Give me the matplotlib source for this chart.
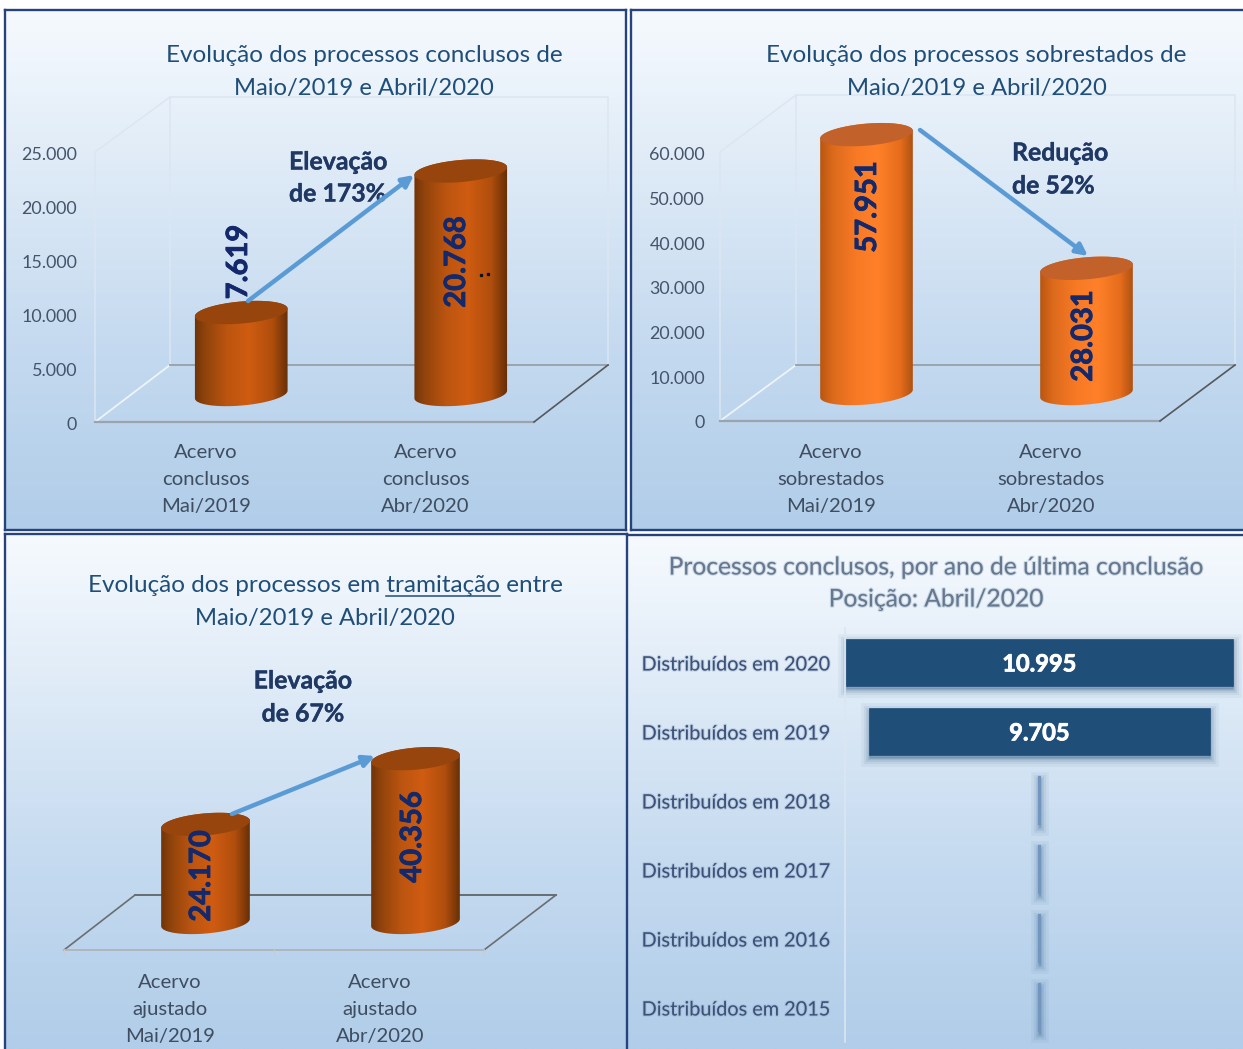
import numpy as np
import matplotlib
matplotlib.use("Agg")
import matplotlib.pyplot as plt
from matplotlib.colors import LinearSegmentedColormap
from matplotlib.patches import Polygon, FancyArrowPatch
from matplotlib.transforms import ScaledTranslation
import matplotlib.patheffects as pe

W, H = 1243, 1049
plt.rcParams["font.family"] = ["Lato", "DejaVu Sans"]

# Data
concl_labels = ["Acervo\nconclusos\nMai/2019", "Acervo\nconclusos\nAbr/2020"]
concl_values = [7619, 20768]
concl_ticks = [0, 5000, 10000, 15000, 20000, 25000]

sobre_labels = ["Acervo\nsobrestados\nMai/2019", "Acervo\nsobrestados\nAbr/2020"]
sobre_values = [57951, 28031]
sobre_ticks = [0, 10000, 20000, 30000, 40000, 50000, 60000]

tram_labels = ["Acervo\najustado\nMai/2019", "Acervo\najustado\nAbr/2020"]
tram_values = [24170, 40356]

ano_labels = ["Distribuídos em 2020", "Distribuídos em 2019", "Distribuídos em 2018",
              "Distribuídos em 2017", "Distribuídos em 2016", "Distribuídos em 2015"]
ano_values = [10995, 9705, 40, 15, 8, 5]

NAVY = "#27437c"
TITLE = "#1f4e79"
AXIS_TXT = "#44546a"
BOLD_TXT = "#1f3864"
VALUE_TXT = "#14296b"
ARROW = "#5b9bd5"


def fmt(v):
    return f"{v:,}".replace(",", ".")


def px_axes(z):
    a = fig.add_axes([0, 0, 1, 1], zorder=z)
    a.set_xlim(0, W)
    a.set_ylim(H, 0)
    a.axis("off")
    a.patch.set_alpha(0)
    return a


def box_axes(left, right, top, bottom):
    a = fig.add_axes([left / W, 1 - bottom / H, (right - left) / W, (bottom - top) / H], zorder=2)
    a.patch.set_alpha(0)
    for s in a.spines.values():
        s.set_visible(False)
    return a


fig = plt.figure(figsize=(W / 100, H / 100), dpi=100, facecolor="white")
bg = px_axes(0)
fg = px_axes(5)

# Panel backgrounds; the lower and right-hand edges run off the canvas
sky = LinearSegmentedColormap.from_list("sky", ["#f6fafe", "#dce9f6", "#c3d9ef", "#b1cde9"])
grad = np.linspace(0, 1, 256)[:, None]
panels = [(5, 626, 10, 530, "ltrb"), (631, 1243, 10, 530, "ltb"),
          (5, 627, 534, 1049, "ltr"), (627, 1243, 535, 1049, "t")]
for l, r, t, b, edges in panels:
    bg.imshow(grad, cmap=sky, extent=(l, r, b, t), aspect="auto", zorder=0)
    segs = {"l": ([l, l], [t, b]), "r": ([r, r], [t, b]), "t": ([l, r], [t, t]), "b": ([l, r], [b, b])}
    for e in edges:
        bg.plot(*segs[e], color=NAVY, lw=1.7, zorder=1, solid_capstyle="projecting")
bg.set_xlim(0, W)
bg.set_ylim(H, 0)


def wall_box(x0, xf, xb, xr, ytop_b, ytop_f, yb, yf):
    """Draw the back wall, side wall and floor outline of a 3D plot box."""
    wall = "#dbe6f2"
    bg.plot([xb, xb, xr, xr], [yb, ytop_b, ytop_b, yb], color=wall, lw=1.1)
    bg.plot([xb, x0, x0], [ytop_b, ytop_f, yf], color=wall, lw=1.1)
    bg.plot([x0, xb], [yf, yb], color="#eef4fa", lw=1.3)
    bg.plot([xb, xr], [yb, yb], color="#9aa4ae", lw=1.4)
    bg.plot([x0, xf], [yf, yf], color="#9aa4ae", lw=1.6)
    bg.plot([xf, xr], [yf, yb], color="#55585c", lw=1.2)


wall_box(95, 534, 170, 608, 97, 152, 365, 422)
wall_box(720, 1160, 796, 1235, 95, 152, 365, 421)

# Floor of the third panel
bg.plot([135, 556], [895, 895], color="#5f6468", lw=1.3)
bg.plot([556, 484], [895, 950], color="#6a6e72", lw=1.2)
bg.plot([135, 64], [895, 950], color="#6a6e72", lw=1.2)
bg.plot([64, 484], [950, 950], color="#aeb6bd", lw=1.4)
for xt in (64, 274, 484):
    bg.plot([xt, xt], [950, 955], color="#c4ccd4", lw=1.0)


def cylinder(ax, cat, value, base, scale, half_w, cmap, top_color):
    """Draw one tilted cylinder whose height is the value, in y-axis units."""
    px_cat = (ax.get_position().width * W) / 2
    b_px, phi = 11.0, np.radians(5)
    th = np.linspace(0, 2 * np.pi, 181)
    ex = half_w * np.cos(th) * np.cos(phi) - b_px * np.sin(th) * np.sin(phi)
    ey = half_w * np.cos(th) * np.sin(phi) + b_px * np.sin(th) * np.cos(phi)
    xs = cat + (36.5 + ex) / px_cat
    up = ey / scale
    top = base + value
    outline = np.r_[np.c_[xs[:91], top + up[:91]], np.c_[xs[90:], base + up[90:]]]
    body = Polygon(outline, closed=True, transform=ax.transData, fc="none", ec="none")
    ax.add_patch(body)
    y_min, y_max = base - 14 / scale, top + 14 / scale
    x_min, x_max = cat + (36.5 - half_w - 2) / px_cat, cat + (36.5 + half_w + 2) / px_cat
    im = ax.imshow(np.linspace(0, 1, 128)[None, :], cmap=cmap, aspect="auto",
                   extent=(x_min, x_max, y_min, y_max), zorder=3, vmin=0, vmax=1)
    im.set_clip_path(body)
    ax.add_patch(Polygon(np.c_[xs, top + up], closed=True, fc=top_color, ec="none", zorder=4))


rust = LinearSegmentedColormap.from_list("rust", [(0, "#6b3108"), (0.12, "#8f430c"), (0.35, "#bc5510"),
                                                  (0.58, "#cf5c11"), (0.82, "#b04e0d"), (1, "#5f2c06")])
amber = LinearSegmentedColormap.from_list("amber", [(0, "#b4530f"), (0.15, "#dc6a1c"), (0.4, "#f97a25"),
                                                    (0.62, "#ff8029"), (0.85, "#e66d1c"), (1, "#a64e10")])


def cylinder_panel(left, right, y0, scale, labels, values, ticks, cmap, top_color, half_w, pad, ypad=13):
    top_val = max(max(values), max(ticks) if ticks else 0) * 1.35
    ax = box_axes(left, right, y0 - top_val * scale, y0)
    ax.set_xlim(-0.5, 1.5)
    ax.set_ylim(0, top_val)
    base = 27.5 / scale
    for i, v in enumerate(values):
        cylinder(ax, i, v, base, scale, half_w, cmap, top_color)
    ax.set_xlim(-0.5, 1.5)
    ax.set_ylim(0, top_val)
    ax.set_xticks(range(len(labels)), labels, color="#3f4d60", fontsize=14.6, linespacing=1.72)
    ax.tick_params(axis="x", length=0, pad=pad)
    ax.set_yticks(ticks, [fmt(t) for t in ticks], color=AXIS_TXT, fontsize=12.9)
    ax.tick_params(axis="y", length=0, pad=ypad)
    nudge = ScaledTranslation(1.2 / 100, 0, fig.dpi_scale_trans)
    for lab in ax.get_xticklabels():
        lab.set_transform(lab.get_transform() + nudge)
    nudge_y = ScaledTranslation(0, -1 / 100, fig.dpi_scale_trans)
    for lab in ax.get_yticklabels():
        lab.set_transform(lab.get_transform() + nudge_y)
    return ax


cylinder_panel(95, 534, 422, 269 / 25000, concl_labels, concl_values, concl_ticks, rust, "#97450d", 46.5, 15.5)
cylinder_panel(720, 1160, 421, 268 / 60000, sobre_labels, sobre_values, sobre_ticks, amber, "#c2622a", 46.5, 16.5,
               ypad=10.8)
cylinder_panel(64, 484, 950, 0.00406, tram_labels, tram_values, [], rust, "#97450d", 44.5, 17)


# Panel titles
def title(x, y, s, color=TITLE, size=17.5, **kw):
    return fg.text(x, y, s, ha="center", va="center", color=color, fontsize=size, **kw)


title(364, 56, "Evolução dos processos conclusos de")
title(364, 88, "Maio/2019 e Abril/2020", size=17.2)
title(976, 55, "Evolução dos processos sobrestados de")
title(977, 88, "Maio/2019 e Abril/2020", size=17.2)
t3 = title(325, 585, "Evolução dos processos em tramitação entre")
title(325, 618, "Maio/2019 e Abril/2020", size=17.2)

# Underline the word "tramitação" in the third title
rend = fig.canvas.get_renderer()
full = t3.get_window_extent(rend)
probe = fg.text(0, 0, "Evolução dos processos em ", fontsize=17.5)
start = full.x0 + probe.get_window_extent(rend).width
probe.set_text("tramitação")
end = start + probe.get_window_extent(rend).width
probe.remove()
fg.plot([start, end], [596, 596], color=TITLE, lw=1.1)

# Change annotations
heavy = [pe.withStroke(linewidth=0.25, foreground=BOLD_TXT)]
for x, y, s, ha in [(289, 162, "Elevação", "left"), (289, 194, "de 173%", "left"),
                    (1012, 153, "Redução", "left"), (1012, 186, "de 52%", "left"),
                    (303, 681, "Elevação", "center"), (303, 714, "de 67%", "center")]:
    fg.text(x, y, s, ha=ha, va="center", color=BOLD_TXT, fontsize=17.9, fontweight="bold", path_effects=heavy)

for start_pt, end_pt in [((248, 301), (414, 175)), ((920, 130), (1088, 256)), ((232, 814), (375, 756))]:
    fg.add_patch(FancyArrowPatch(start_pt, end_pt, arrowstyle="-|>", mutation_scale=17,
                                 color=ARROW, lw=3.2, shrinkA=0, shrinkB=0, zorder=3))

# Value labels written along the cylinders
heavy_val = [pe.withStroke(linewidth=0.6, foreground=VALUE_TXT)]
for x, y, v in [(239, 262, concl_values[0]), (457, 262, concl_values[1]),
                (868, 207, sobre_values[0]), (1084, 336, sobre_values[1]),
                (202, 876, tram_values[0]), (413, 837, tram_values[1])]:
    fg.text(x, y, fmt(v), rotation=90, ha="center", va="center", color=VALUE_TXT,
            fontsize=21, fontweight="bold", zorder=6, path_effects=heavy_val)

fg.plot([481, 488], [275, 274], ls="none", marker="s", ms=1.4, color="#111111", zorder=6)
fg.set_xlim(0, W)
fg.set_ylim(H, 0)

# Funnel of concluded cases by year
soft = [pe.withStroke(linewidth=1.6, foreground="#8fa6c4", alpha=0.35)]
title(936, 567, "Processos conclusos, por ano de última conclusão", color="#66788e", size=17.7, path_effects=soft)
title(936, 599, "Posição: Abril/2020", color="#66788e", size=17.7, path_effects=soft)

ax4 = box_axes(845, 1234, 628, 1042)
half_span = 389 / 0.0352 / 2
ax4.set_xlim(-half_span, half_span)
y_pos = np.arange(len(ano_values))
ano = np.array(ano_values, dtype=float)
for lw, alpha in [(12, 0.05), (8, 0.07), (5, 0.09), (2.5, 0.12)]:
    ax4.barh(y_pos + 0.05, ano, left=-ano / 2, height=0.68, color="#1f4e79", alpha=alpha,
             edgecolor="#1f4e79", linewidth=lw, zorder=1, clip_on=False)
ax4.barh(y_pos, ano, left=-ano / 2, height=0.68, color="#1f4e79",
         edgecolor=["#1f4e79", "#1f4e79", "#7396c0", "#7396c0", "#7396c0", "#7396c0"],
         linewidth=[0.5, 0.5, 1.6, 1.6, 1.6, 1.6], zorder=2, clip_on=False)
ax4.set_ylim(5.5, -0.5)
ax4.set_yticks(y_pos, ano_labels, color="#3c5078", fontsize=14.3, path_effects=soft)
ax4.tick_params(axis="y", length=0, pad=10.5)
ax4.set_xticks([])
ax4.spines["left"].set_visible(True)
ax4.spines["left"].set_color("#dbe6f1")
ax4.spines["left"].set_linewidth(1.2)
nudge_lab = ScaledTranslation(0, -1 / 100, fig.dpi_scale_trans)
for lab in ax4.get_yticklabels():
    lab.set_transform(lab.get_transform() + nudge_lab)
heavy_bar = [pe.withStroke(linewidth=0.6, foreground="white")]
for i in range(2):
    ax4.text(0, y_pos[i] + 0.02, fmt(ano_values[i]), ha="center", va="center", color="white",
             fontsize=17, fontweight="bold", zorder=4, path_effects=heavy_bar)

fig.savefig("out.png", dpi=100, facecolor="white")
